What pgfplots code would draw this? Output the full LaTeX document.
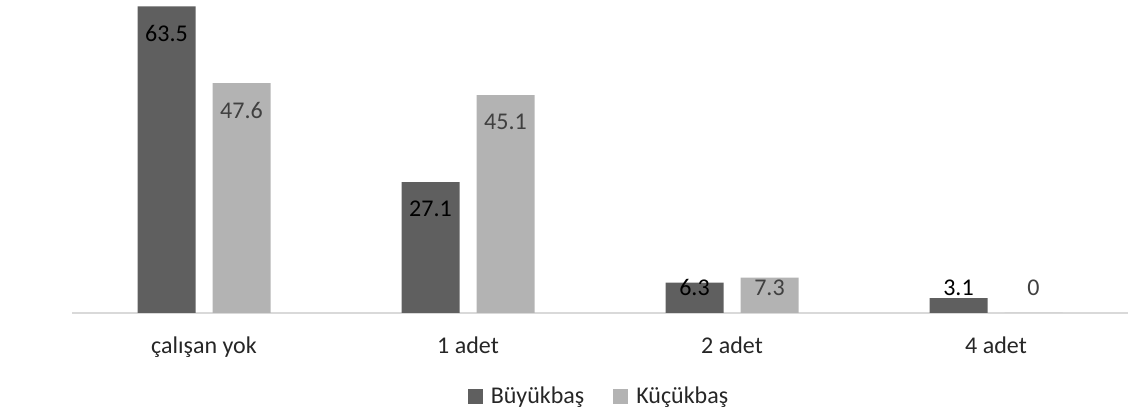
\documentclass[border=0pt]{standalone}
\usepackage{pgfplots}
\pgfplotsset{compat=1.18}
\usepackage{fontspec}
\setmainfont{Carlito}
\definecolor{buyuk}{HTML}{5F5F5F}
\definecolor{kucuk}{HTML}{B3B3B3}
\definecolor{baseln}{HTML}{D9D9D9}
\definecolor{ticktxt}{HTML}{262626}
\begin{document}
\begin{tikzpicture}
\begin{axis}[
    ybar=8.5pt,
    bar width=29pt,
    x=132pt, y=2.415pt,
    xmin=-0.5, xmax=3.5,
    ymin=0, ymax=64.8,
    xtick=data,
    xticklabels={çalışan yok, 1 adet, 2 adet, 4 adet},
    major tick length=0pt,
    axis x line*=bottom,
    axis y line=none,
    x axis line style={draw=baseln, line width=1pt, -},
    ytick=\empty,
    xticklabel style={anchor=base, yshift=-20.5pt, text=ticktxt},
    font=\fontsize{12}{14}\selectfont,
    /pgf/number format/assume math mode=true,
    clip=false,
    nodes near coords,
    visualization depends on={rawy \as \ry},
    nodes near coords style={anchor=center, font=\fontsize{12}{14}\selectfont,
        /pgf/number format/assume math mode=true,
        yshift={max(-13.5,(5.2-\ry)*2.415)}},
    legend image code/.code={\fill[#1] (0pt,-3.75pt) rectangle (7.5pt,3.75pt);},
    legend style={draw=none, fill=none, legend columns=-1,
        at={(0.5,0)}, anchor=center, yshift=-42pt,
        /tikz/every odd column/.append style={column sep=2pt},
        /tikz/every even column/.append style={column sep=12.5pt},
        font=\fontsize{12}{14}\selectfont, text=ticktxt},
]
    % Büyükbaş
    \addplot[fill=buyuk, draw=none, nodes near coords style={text=black}] coordinates {
        (0,63.5) (1,27.1) (2,6.3) (3,3.1)
    };
    % Küçükbaş
    \addplot[fill=kucuk, draw=none, nodes near coords style={text=black!75}] coordinates {
        (0,47.6) (1,45.1) (2,7.3) (3,0)
    };
    \legend{Büyükbaş, Küçükbaş}
    \coordinate (bl) at (rel axis cs:0,0);
    \coordinate (tr) at (rel axis cs:1,1);
\end{axis}
\pgfresetboundingbox
\path ([xshift=-36pt,yshift=-50.5pt]bl) rectangle ([xshift=1.5pt]tr);
\end{tikzpicture}
\end{document}
